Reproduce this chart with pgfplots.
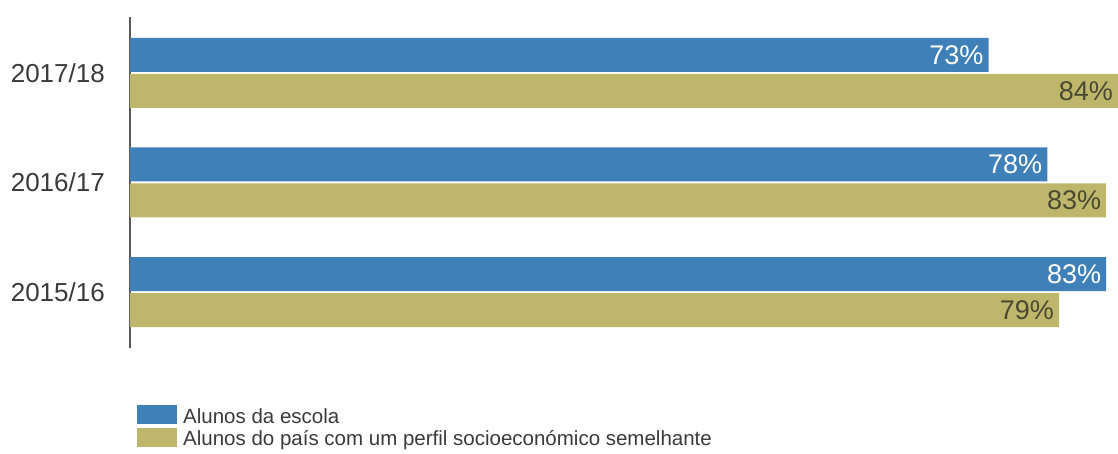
\documentclass[border=0pt]{standalone}
\usepackage{fontspec}
\setmainfont{Liberation Sans}
\usepackage{pgfplots}
\pgfplotsset{compat=1.18}
\definecolor{cblue}{HTML}{4080B9}
\definecolor{colive}{HTML}{BDB66B}
\definecolor{txt}{HTML}{3A3A3A}
\definecolor{olivetxt}{HTML}{4A4A32}
\begin{document}
\begin{tikzpicture}
\begin{axis}[
  at={(0pt,0pt)}, anchor=south west,
  scale only axis, width=988pt, height=331pt,
  xmin=0, xmax=84, ymin=-0.511, ymax=2.511,
  xbar, bar width=34pt,
  hide x axis,
  axis y line*=left,
  y axis line style={-, line width=1.2pt, color=black!65},
  ytick={0,1,2}, yticklabels={2015/16,2016/17,2017/18},
  major tick length=0pt,
  yticklabel style={font=\fontsize{26}{31}\selectfont, text=txt, inner sep=0pt, xshift=-25pt},
  /pgf/number format/assume math mode=true,
  nodes near coords={\pgfmathprintnumber{\pgfplotspointmeta}\%},
  every node near coord/.append style={anchor=east, xshift=-5pt, inner sep=0pt, font=\fontsize{27}{32}\selectfont},
  clip=false,
  legend style={at={(axis description cs:0,0)}, anchor=north west, xshift=7pt, yshift=-57pt,
    draw=none, fill=none, inner sep=0pt, row sep=3pt, column sep=6pt,
    font=\fontsize{20.5}{24}\selectfont, text=txt, cells={anchor=base west}, nodes={inner sep=0pt}},
  legend image code/.code={\fill[#1] (0pt,-1pt) rectangle (40pt,18pt);},
]
\addplot[fill=cblue, draw=none, bar shift=18pt, every node near coord/.append style={text=white}]
  coordinates {(73,2) (78,1) (83,0)};
\addplot[fill=colive, draw=none, bar shift=-18pt, every node near coord/.append style={text=olivetxt}]
  coordinates {(84,2) (83,1) (79,0)};
\legend{Alunos da escola, Alunos do país com um perfil socioeconómico semelhante}
\end{axis}
\pgfresetboundingbox
\path (-130pt,-106pt) rectangle (988pt,348pt);
\end{tikzpicture}
\end{document}
